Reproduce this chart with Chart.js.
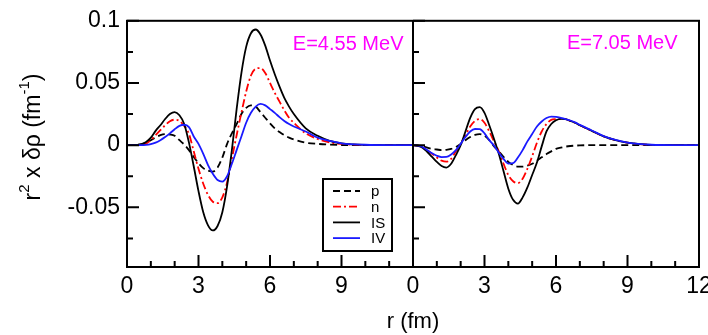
<!DOCTYPE html>
<html lang="en">
<head>
<meta charset="UTF-8">
<title>r2 x drho</title>
<script src="https://cdn.jsdelivr.net/npm/chart.js@4.4.0/dist/chart.umd.min.js"></script>
<style>
  html, body { margin: 0; padding: 0; background: #fff; }
</style>
</head>
<body>
<canvas id="myCanvas" width="708" height="335"></canvas>
<script>
// radial grid in fm, same for both panels
const r = [0, 0.2, 0.4, 0.6, 0.8, 1, 1.2, 1.4, 1.6, 1.8,
           2, 2.2, 2.4, 2.6, 2.8, 3, 3.2, 3.4, 3.6, 3.8,
           4, 4.2, 4.4, 4.6, 4.8, 5, 5.2, 5.4, 5.6, 5.8,
           6, 6.2, 6.4, 6.6, 6.8, 7,
           7.5, 8, 8.5, 9, 10, 11, 12];

const seriesNames = ['p', 'n', 'IS', 'IV'];
const energies = ['E=4.55 MeV', 'E=7.05 MeV'];

// E = 4.55 MeV
const p455 = [0, 0, 0.0002, 0.0008, 0.002, 0.004, 0.0062, 0.008, 0.0088, 0.0085,
  0.0075, 0.004, 0.0005, -0.004, -0.0095, -0.0145, -0.0185, -0.0205, -0.0213, -0.018,
  -0.010, 0.001, 0.0095, 0.017, 0.025, 0.030, 0.032, 0.031, 0.0265, 0.022,
  0.0175, 0.0135, 0.0105, 0.008, 0.006, 0.0045,
  0.002, 0.001, 0.0004, 0.0001, 0, 0, 0];
const n455 = [0, 0, 0.0001, 0.0004, 0.0012, 0.004, 0.008, 0.012, 0.016, 0.0192,
  0.0205, 0.0195, 0.0155, 0.009, -0.005, -0.019, -0.031, -0.040, -0.0455, -0.0466,
  -0.042, -0.030, -0.011, 0.008, 0.026, 0.043, 0.056, 0.0615, 0.062, 0.058,
  0.050, 0.042, 0.035, 0.028, 0.022, 0.018,
  0.0095, 0.005, 0.0022, 0.001, 0.0001, 0, 0];
const is455 = [0, 0, 0.0002, 0.0006, 0.0025, 0.006, 0.0115, 0.016, 0.021, 0.025,
  0.0266, 0.024, 0.017, 0.002, -0.017, -0.037, -0.054, -0.0645, -0.0686, -0.065,
  -0.054, -0.033, -0.004, 0.029, 0.058, 0.079, 0.090, 0.093, 0.089, 0.080,
  0.068, 0.057, 0.047, 0.038, 0.031, 0.025,
  0.0135, 0.0075, 0.0035, 0.0015, 0.0002, 0, 0];
const iv455 = [0, 0, 0, 0, 0.0002, 0.0008, 0.002, 0.004, 0.0065, 0.0095,
  0.0128, 0.0155, 0.0164, 0.0145, 0.007, 0.001, -0.007, -0.016, -0.023, -0.028,
  -0.0293, -0.025, -0.015, -0.004, 0.007, 0.018, 0.026, 0.031, 0.0332, 0.032,
  0.029, 0.026, 0.0225, 0.0195, 0.017, 0.015,
  0.011, 0.006, 0.0035, 0.0015, 0.0003, 0, 0];

// E = 7.05 MeV
const p705 = [0, -0.0002, -0.001, -0.002, -0.003, -0.0035, -0.004, -0.0038, -0.003, -0.0015,
  0.001, 0.004, 0.0065, 0.0082, 0.0088, 0.0075, 0.004, -0.001, -0.005, -0.0095,
  -0.0135, -0.016, -0.0172, -0.0173, -0.0165, -0.015, -0.0125, -0.0098, -0.0072, -0.005,
  -0.003, -0.002, -0.0012, -0.0007, -0.0004, -0.0002,
  0, 0, 0, 0, 0, 0, 0];
const n705 = [0, -0.0004, -0.0015, -0.004, -0.007, -0.010, -0.0125, -0.0133, -0.011, -0.005,
  0.001, 0.008, 0.015, 0.0195, 0.021, 0.018, 0.011, 0.003, -0.005, -0.015,
  -0.024, -0.029, -0.0305, -0.027, -0.019, -0.009, 0.002, 0.011, 0.017, 0.0203,
  0.021, 0.0212, 0.021, 0.0195, 0.018, 0.016,
  0.0115, 0.007, 0.004, 0.002, 0.0002, 0, 0];
const is705 = [0, -0.0005, -0.002, -0.0055, -0.0095, -0.0135, -0.0168, -0.018, -0.015, -0.008,
  0.000, 0.011, 0.022, 0.029, 0.0305, 0.026, 0.016, 0.005, -0.007, -0.021,
  -0.035, -0.044, -0.047, -0.042, -0.034, -0.024, -0.014, -0.001, 0.011, 0.017,
  0.020, 0.0212, 0.021, 0.0195, 0.018, 0.016,
  0.0115, 0.007, 0.004, 0.002, 0.0002, 0, 0];
const iv705 = [0, -0.0003, -0.0015, -0.004, -0.0065, -0.0085, -0.0096, -0.0095, -0.0075, -0.004,
  0.001, 0.0065, 0.011, 0.013, 0.0128, 0.0095, 0.004, -0.0005, -0.006, -0.011,
  -0.0148, -0.0145, -0.010, -0.004, 0.003, 0.009, 0.015, 0.019, 0.0218, 0.023,
  0.0228, 0.022, 0.021, 0.0198, 0.0183, 0.0163,
  0.0118, 0.0073, 0.0042, 0.0021, 0.0003, 0, 0];

const xTickLabels = ['0', '3', '6', '9', '0', '3', '6', '9', '12'];
const yTickValues = [-0.05, 0, 0.05, 0.1];
const yTickLabels = ['-0.05', '0', '0.05', '0.1'];

const FONT = "'Liberation Sans', Arial, sans-serif";
const panelWidth = 12;   // each panel runs 0..12 fm

const lineStyle = {
  p:  { color: '#000000', dash: [7, 4], order: 4 },
  n:  { color: '#ff0000', dash: [8, 3, 2, 3], order: 3 },
  IS: { color: '#000000', dash: [], order: 2 },
  IV: { color: '#1a1aff', dash: [], order: 1 }
};

const panels = [[p455, n455, is455, iv455], [p705, n705, is705, iv705]];

const datasets = [];
panels.forEach((set, k) => {
  set.forEach((vals, j) => {
    const name = seriesNames[j];
    const st = lineStyle[name];
    datasets.push({
      label: name,
      data: r.map((x, i) => ({ x: x + k * panelWidth, y: vals[i] })),
      borderColor: st.color,
      borderDash: st.dash,
      borderWidth: 1.8,
      pointRadius: 0,
      fill: false,
      cubicInterpolationMode: 'monotone',
      order: st.order
    });
  });
});

// frame, inner ticks, divider, legend box, energy labels, y title
const decorations = {
  id: 'decorations',
  afterDatasetsDraw(chart) {
    const ctx = chart.ctx;
    const a = chart.chartArea;
    const xs = chart.scales.x, ys = chart.scales.y;
    ctx.save();
    ctx.strokeStyle = '#000';
    ctx.lineWidth = 2;
    ctx.setLineDash([]);
    ctx.strokeRect(a.left, a.top, a.right - a.left, a.bottom - a.top);

    const xMid = xs.getPixelForValue(panelWidth);
    ctx.beginPath();
    ctx.moveTo(xMid, a.top);
    ctx.lineTo(xMid, a.bottom);

    // y ticks, pointing into each panel
    for (let k = -3; k <= 4; k++) {
      const py = ys.getPixelForValue(k * 0.025);
      const len = (k % 2 === 0) ? 12 : 6;
      [a.left, xMid].forEach(x0 => {
        ctx.moveTo(x0, py);
        ctx.lineTo(x0 + len, py);
      });
    }
    // x ticks, pointing up
    for (let v = 1; v < 2 * panelWidth; v++) {
      const px = xs.getPixelForValue(v);
      const len = (v % 3 === 0) ? 12 : 6;
      ctx.moveTo(px, a.bottom);
      ctx.lineTo(px, a.bottom - len);
    }
    ctx.stroke();

    // energy labels
    ctx.fillStyle = '#ff00ff';
    ctx.font = '20px ' + FONT;
    ctx.textAlign = 'right';
    ctx.textBaseline = 'alphabetic';
    ctx.fillText(energies[0], xs.getPixelForValue(11.6), 50);
    ctx.fillText(energies[1], xs.getPixelForValue(23.1), 49);

    // legend box
    const lx = 323, ly = 179, lw = 69, lh = 72;
    ctx.fillStyle = '#fff';
    ctx.fillRect(lx, ly, lw, lh);
    ctx.lineWidth = 2;
    ctx.strokeRect(lx, ly, lw, lh);
    ctx.font = '15px ' + FONT;
    ctx.textAlign = 'left';
    ctx.textBaseline = 'middle';
    for (let j = 0; j < 4; j++) {
      const ds = chart.data.datasets[j];
      const yy = ly + 12 + j * 15.7;
      ctx.beginPath();
      ctx.strokeStyle = ds.borderColor;
      ctx.lineWidth = 1.8;
      ctx.setLineDash(ds.borderDash);
      ctx.moveTo(lx + 10, yy);
      ctx.lineTo(lx + 37, yy);
      ctx.stroke();
      ctx.setLineDash([]);
      ctx.fillStyle = '#000';
      ctx.fillText(ds.label, lx + 48, yy + 1);
    }

    // y axis title with superscripts
    const parts = [['r', 0], ['2', 1], [' x \u03b4\u03c1 (fm', 0], ['-1', 1], [')', 0]];
    const big = '23px ' + FONT, small = '15px ' + FONT;
    let total = 0;
    parts.forEach(p => { ctx.font = p[1] ? small : big; total += ctx.measureText(p[0]).width; });
    ctx.translate(40, 137);
    ctx.rotate(-Math.PI / 2);
    ctx.textAlign = 'left';
    ctx.textBaseline = 'alphabetic';
    ctx.fillStyle = '#000';
    let x = -total / 2;
    parts.forEach(p => {
      ctx.font = p[1] ? small : big;
      ctx.fillText(p[0], x, p[1] ? -11 : 0);
      x += ctx.measureText(p[0]).width;
    });
    ctx.restore();
  }
};

new Chart(document.getElementById('myCanvas').getContext('2d'), {
  type: 'line',
  data: { datasets: datasets },
  options: {
    responsive: false,
    animation: false,
    devicePixelRatio: 1,
    layout: { padding: { left: 0, right: 9, top: 18, bottom: 0 } },
    plugins: {
      legend: { display: false },
      tooltip: { enabled: false }
    },
    scales: {
      x: {
        type: 'linear',
        min: 0,
        max: 2 * panelWidth,
        grid: { display: false, drawTicks: false },
        border: { display: false },
        ticks: {
          stepSize: 3,
          autoSkip: false,
          maxRotation: 0,
          padding: 6,
          color: '#000',
          font: { size: 23, family: FONT },
          callback: v => xTickLabels[Math.round(v / 3)]
        },
        title: {
          display: true,
          text: 'r (fm)',
          color: '#000',
          font: { size: 22, family: FONT },
          padding: { top: 0, bottom: 0 }
        },
        afterFit: s => { s.height = 68; s.paddingLeft = 0; s.paddingRight = 0; }
      },
      y: {
        min: -0.098,
        max: 0.1,
        grid: { display: false, drawTicks: false },
        border: { display: false },
        ticks: {
          stepSize: 0.025,
          includeBounds: false,
          autoSkip: false,
          padding: 7,
          color: '#000',
          font: { size: 23, family: FONT },
          callback: v => {
            const i = yTickValues.findIndex(t => Math.abs(t - v) < 1e-6);
            return i >= 0 ? yTickLabels[i] : '';
          }
        },
        afterFit: s => { s.width = 127; }
      }
    }
  },
  plugins: [decorations]
});
</script>
</body>
</html>
